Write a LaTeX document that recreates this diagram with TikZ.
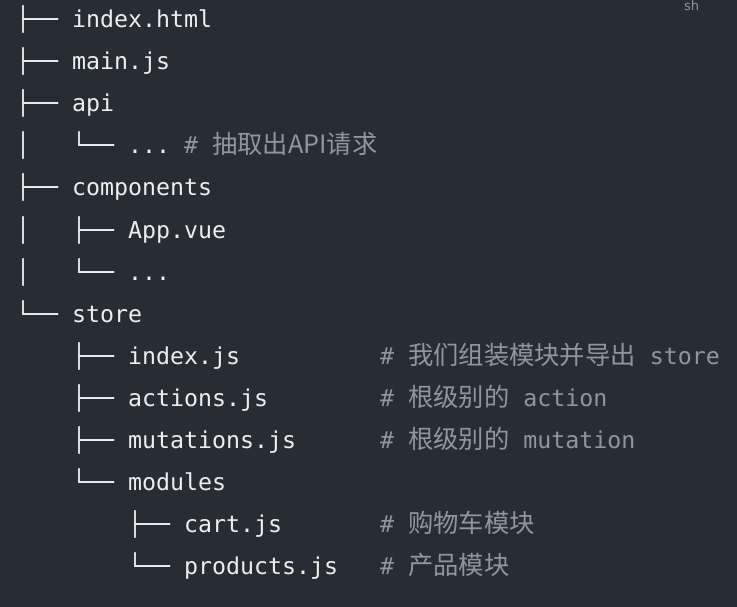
\documentclass[tikz,border=0pt]{standalone}
\usepackage{fontspec}
\setmainfont{DejaVu Sans Mono}
\newfontfamily\cjkfont{Noto Sans CJK SC}
\newfontfamily\shfont{DejaVu Sans}
\newcommand\zh[1]{{\cjkfont\fontsize{25.3}{30}\selectfont #1}}
\definecolor{bg}{HTML}{282C34}
\definecolor{fg}{HTML}{EEEEEE}
\definecolor{cmt}{HTML}{92969C}
\begin{document}
\begin{tikzpicture}[x=1pt,y=-1pt,
  line/.style={anchor=base west,inner sep=0pt,text=fg,font=\fontsize{23.25}{28}\selectfont},
  comment/.style={anchor=base west,inner sep=0pt,text=cmt,font=\fontsize{23.25}{28}\selectfont}]
\fill[bg] (0,0) rectangle (737,607);
\useasboundingbox (0,0) rectangle (737,607);
\node[anchor=base west,inner sep=0pt,text=cmt,font=\shfont\fontsize{13}{16}\selectfont] (sh) at (684,11) {sh};
% level 0 column x=16, level 1 x=72, level 2 x=128, level 3 x=184
\node[line] (r0) at (16,28) {├── index.html};
\node[line] (r1) at (16,70) {├── main.js};
\node[line] (r2) at (16,112) {├── api};
\node[line] (b3) at (16,154) {│};
\node[line] (r3) at (72,154) {└── ...};
\node[comment] (c3) at (184,154) {\# \zh{抽取出API请求}};
\node[line] (r4) at (16,196) {├── components};
\node[line] (b5) at (16,238) {│};
\node[line] (r5) at (72,238) {├── App.vue};
\node[line] (b6) at (16,280) {│};
\node[line] (r6) at (72,280) {└── ...};
\node[line] (r7) at (16,322) {└── store};
\node[line] (r8) at (72,364) {├── index.js};
\node[comment] (c8) at (380,364) {\# \zh{我们组装模块并导出} store};
\node[line] (r9) at (72,406) {├── actions.js};
\node[comment] (c9) at (380,406) {\# \zh{根级别的} action};
\node[line] (r10) at (72,448) {├── mutations.js};
\node[comment] (c10) at (380,448) {\# \zh{根级别的} mutation};
\node[line] (r11) at (72,490) {└── modules};
\node[line] (r12) at (128,532) {├── cart.js};
\node[comment] (c12) at (380,532) {\# \zh{购物车模块}};
\node[line] (r13) at (128,574) {└── products.js};
\node[comment] (c13) at (380,574) {\# \zh{产品模块}};
\end{tikzpicture}
\end{document}
